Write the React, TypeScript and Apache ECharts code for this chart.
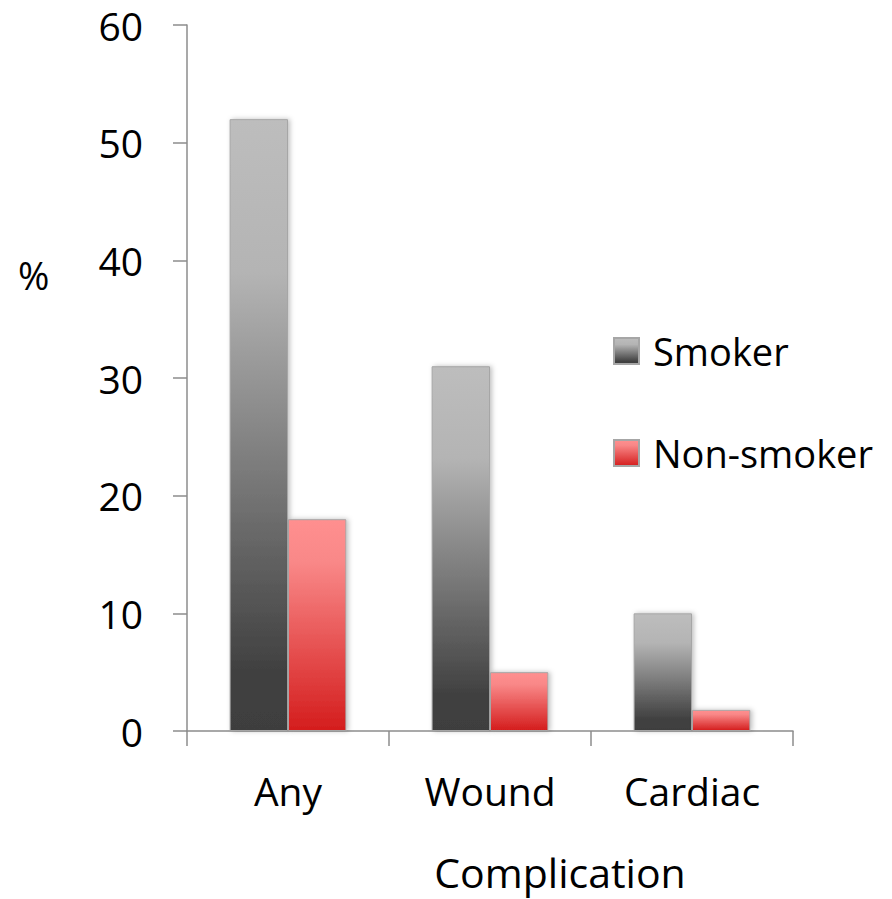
import React, { useEffect, useRef } from "react";
import * as echarts from "echarts";

// Complication rates (%) by smoking status
const categories = ["Any", "Wound", "Cardiac"];
const smoker = [52, 31, 10];
const nonSmoker = [18, 5, 1.8];
const yTicks = { min: 0, max: 60, interval: 10 };

const FONT = "'Open Sans', 'Noto Sans', sans-serif";

export default function App() {
  const ref = useRef<HTMLDivElement>(null);

  useEffect(() => {
    if (!ref.current) return;
    const chart = echarts.init(ref.current, undefined, { renderer: "svg" });

    const grayFill = new echarts.graphic.LinearGradient(0, 0, 0, 1, [
      { offset: 0, color: "#bdbdbd" },
      { offset: 0.25, color: "#b4b4b4" },
      { offset: 0.9, color: "#414141" },
      { offset: 1, color: "#3e3e3e" },
    ]);
    const redFill = new echarts.graphic.LinearGradient(0, 0, 0, 1, [
      { offset: 0, color: "#ff8f8f" },
      { offset: 0.2, color: "#f98888" },
      { offset: 1, color: "#d41d1d" },
    ]);

    const barStyle = {
      borderColor: "#a6a6a6",
      borderWidth: 1,
      shadowBlur: 5,
      shadowColor: "rgba(0,0,0,0.25)",
      shadowOffsetX: 2,
      shadowOffsetY: 0,
    };

    chart.setOption({
      animation: false,
      backgroundColor: "#ffffff",
      textStyle: { fontFamily: FONT },
      grid: { left: 187, right: 99, top: 25, bottom: 168, containLabel: false },
      legend: {
        orient: "vertical",
        left: 608,
        top: 326,
        itemWidth: 25,
        itemHeight: 26,
        itemGap: 62,
        icon: "rect",
        textStyle: {
          fontFamily: FONT,
          fontSize: 38,
          color: "#000",
          lineHeight: 40,
          padding: [0, 0, 0, 9],
        },
        data: ["Smoker", "Non-smoker"],
      },
      graphic: [
        {
          type: "text",
          left: 18,
          top: 256,
          style: { text: "%", font: `38px ${FONT}`, fill: "#000" },
        },
        {
          type: "text",
          x: 560,
          y: 872,
          style: {
            text: "Complication",
            font: `41px ${FONT}`,
            lineHeight: 42,
            fill: "#000",
            align: "center",
            verticalAlign: "middle",
          },
        },
      ],
      xAxis: {
        type: "category",
        data: categories,
        axisLine: { lineStyle: { color: "#8c8c8c", width: 1.5 } },
        axisTick: {
          show: true,
          inside: false,
          length: 15,
          alignWithLabel: false,
          lineStyle: { color: "#8c8c8c", width: 1.5 },
        },
        axisLabel: {
          fontFamily: FONT,
          fontSize: 39,
          color: "#000",
          margin: 40,
        },
      },
      yAxis: {
        type: "value",
        min: yTicks.min,
        max: yTicks.max,
        interval: yTicks.interval,
        splitLine: { show: false },
        axisLine: { show: true, lineStyle: { color: "#8c8c8c", width: 1.5 } },
        axisTick: {
          show: true,
          length: 14,
          lineStyle: { color: "#8c8c8c", width: 1.5 },
        },
        axisLabel: {
          fontFamily: FONT,
          fontSize: 39,
          color: "#000",
          margin: 44,
        },
      },
      series: [
        {
          name: "Smoker",
          type: "bar",
          data: smoker,
          barWidth: "28.9%",
          barGap: "0%",
          itemStyle: { color: grayFill, ...barStyle },
        },
        {
          name: "Non-smoker",
          type: "bar",
          data: nonSmoker,
          barWidth: "28.9%",
          barGap: "0%",
          itemStyle: { color: redFill, ...barStyle },
        },
      ],
    });

    return () => chart.dispose();
  }, []);

  return (
    <div
      ref={ref}
      style={{ position: "absolute", left: 0, top: 0, width: 892, height: 899 }}
    />
  );
}
